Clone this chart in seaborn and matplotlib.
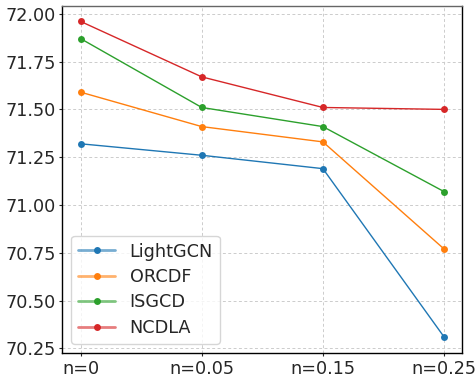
import matplotlib
matplotlib.use("Agg")
import matplotlib.pyplot as plt
import seaborn as sns
import pandas as pd
from matplotlib.colors import to_rgba

categories = ["n=0", "n=0.05", "n=0.15", "n=0.25"]
lightgcn = [71.32, 71.26, 71.19, 70.31]
orcdf = [71.59, 71.41, 71.33, 70.77]
isgcd = [71.87, 71.51, 71.41, 71.07]
ncdla = [71.96, 71.67, 71.51, 71.50]
series_names = ["LightGCN", "ORCDF", "ISGCD", "NCDLA"]
series_values = [lightgcn, orcdf, isgcd, ncdla]

rows = []
for name, vals in zip(series_names, series_values):
    for c, v in zip(categories, vals):
        rows.append({"x": c, "y": v, "model": name})
df = pd.DataFrame(rows)

sns.set_style("ticks")
plt.rcParams["font.family"] = ["DejaVu Sans"]

fig = plt.figure(figsize=(4.77, 3.78), dpi=100)
ax = fig.add_axes([0.131, 0.067, 0.838, 0.918])
palette = ["#1f77b4", "#ff7f0e", "#2ca02c", "#d62728"]
sns.lineplot(data=df, x="x", y="y", hue="model", palette=palette, marker="o",
             markersize=5, markeredgewidth=0, linewidth=1, ax=ax, sort=False)

ax.grid(True, linestyle=(0, (3, 2.5)), color="#cccccc", linewidth=0.7)
ax.set_axisbelow(True)
ax.set_xlabel("")
ax.set_ylabel("")
ax.set_yticks([70.25, 70.50, 70.75, 71.00, 71.25, 71.50, 71.75, 72.00])
ax.set_yticklabels([f"{t:.2f}" for t in ax.get_yticks()])
ax.tick_params(axis="both", labelsize=12.7, length=2.5, width=0.8, pad=2.5, direction="out")
for s in ax.spines.values():
    s.set_visible(True)
    s.set_color("black")
    s.set_linewidth(1.0)
ax.spines["top"].set_color("#666666")

leg = ax.legend(loc="lower left", fontsize=12.7, frameon=True, handlelength=2.1,
                labelspacing=0.42, borderaxespad=0.5)
for h, c in zip(leg.legend_handles, palette):
    h.set_color(to_rgba(c, 0.6))
    h.set_markerfacecolor(c)
    h.set_markeredgecolor(c)
    h.set_linewidth(2)

fig.savefig("out.png", dpi=100)
